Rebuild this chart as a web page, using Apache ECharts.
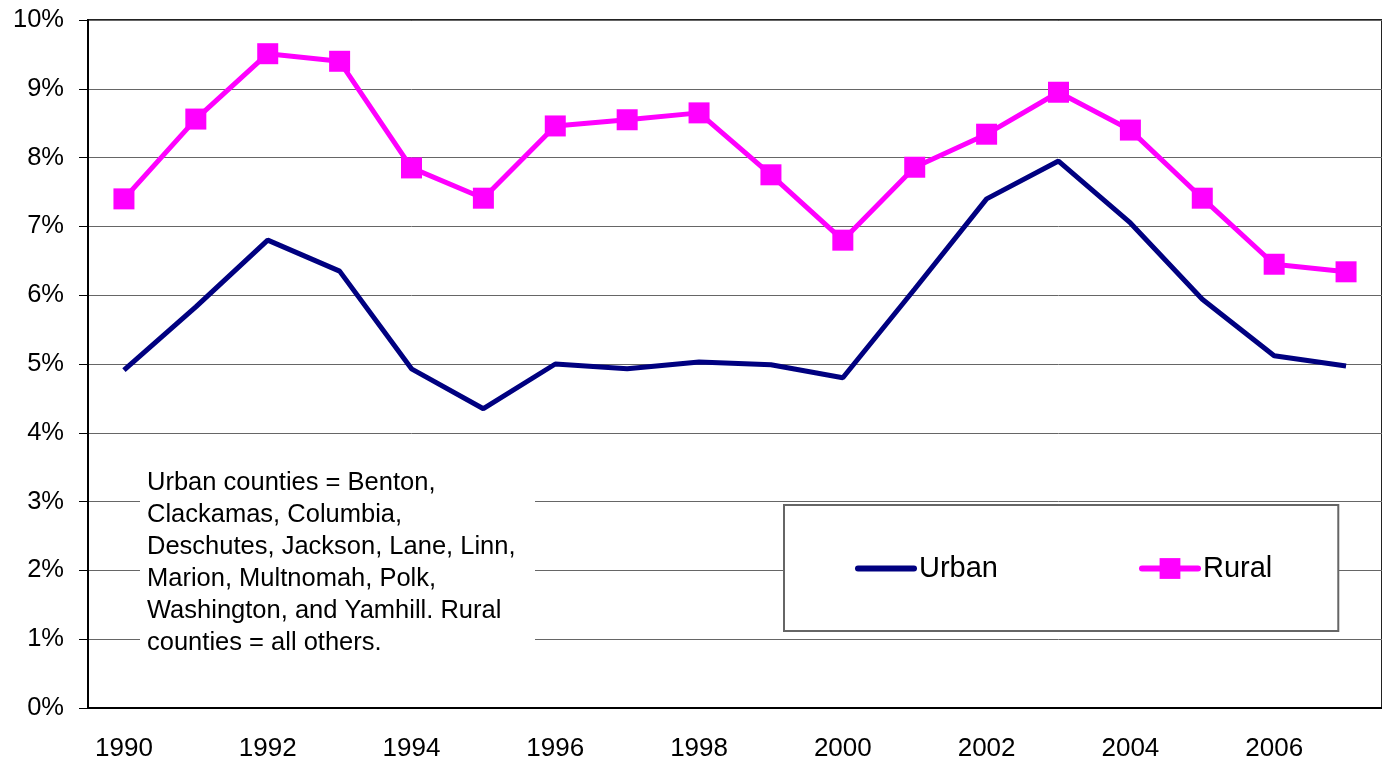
<!DOCTYPE html>
<html>
<head>
<meta charset="utf-8">
<script src="https://cdn.jsdelivr.net/npm/echarts@6/dist/echarts.min.js"></script>
<style>
  html, body { margin: 0; padding: 0; background: #fff; }
  #chart { width: 1382px; height: 762px; }
</style>
</head>
<body>
<div id="chart"></div>
<script>
const years = ['1990', '1991', '1992', '1993', '1994', '1995', '1996', '1997', '1998',
  '1999', '2000', '2001', '2002', '2003', '2004', '2005', '2006', '2007']
const urban = [4.91, 5.83, 6.80, 6.35, 4.93, 4.35, 5.00, 4.93, 5.03,
  4.99, 4.80, 6.09, 7.40, 7.95, 7.05, 5.94, 5.12, 4.97]
const rural = [7.40, 8.56, 9.51, 9.40, 7.85, 7.41, 8.46, 8.55, 8.65,
  7.75, 6.80, 7.86, 8.34, 8.95, 8.40, 7.41, 6.45, 6.34]
const note = 'Urban counties = Benton,\nClackamas, Columbia,\nDeschutes, Jackson, Lane, Linn,\nMarion, Multnomah, Polk,\nWashington, and Yamhill. Rural\ncounties = all others.'

const font = '"Liberation Sans", Arial, sans-serif'
const chart = echarts.init(document.getElementById('chart'))

chart.setOption({
  animation: false,
  backgroundColor: '#fff',
  textStyle: { fontFamily: font, color: '#000' },
  grid: {
    left: 88, right: -20, top: 20, bottom: 54,
    show: true, borderColor: '#222', borderWidth: 2, backgroundColor: 'transparent',
  },
  legend: {
    left: 784,
    top: 505,
    padding: [49, 66, 48, 71],
    itemWidth: 56,
    itemHeight: 26,
    itemGap: 141,
    backgroundColor: '#fff',
    borderColor: '#666',
    borderWidth: 2,
    lineStyle: { width: 6, cap: 'round' },
    textStyle: { fontSize: 29, color: '#000', fontFamily: font },
    data: [
      { name: 'Urban', itemStyle: { opacity: 0 } },
      { name: 'Rural' },
    ],
  },
  xAxis: {
    type: 'category',
    data: years,
    boundaryGap: true,
    axisLine: { lineStyle: { color: '#000', width: 2 } },
    axisTick: { interval: 0, length: 8, lineStyle: { color: '#000', width: 1 } },
    axisLabel: { interval: 1, fontSize: 26, color: '#000', margin: 28, fontFamily: font },
  },
  yAxis: {
    type: 'value',
    min: 0,
    max: 10,
    interval: 1,
    axisLine: { show: true, lineStyle: { color: '#000', width: 2 } },
    axisTick: { show: true, length: 9, lineStyle: { color: '#000', width: 1 } },
    axisLabel: { formatter: '{value}%', fontSize: 25.5, color: '#000', margin: 24, fontFamily: font, padding: [4, 0, 0, 0] },
    splitLine: { lineStyle: { color: '#666', width: 1 } },
  },
  graphic: [
    {
      type: 'rect',
      shape: { x: 140, y: 463, width: 395, height: 198 },
      style: { fill: '#fff' },
      z: 10,
    },
    {
      type: 'text',
      x: 147,
      y: 467,
      z: 11,
      style: {
        text: note,
        font: '25.5px ' + font,
        fill: '#000',
        lineHeight: 32,
      },
    },
  ],
  series: [
    {
      name: 'Urban',
      type: 'line',
      data: urban,
      symbol: 'none',
      color: '#000080',
      lineStyle: { color: '#000080', width: 5 },
      z: 3,
    },
    {
      name: 'Rural',
      type: 'line',
      data: rural,
      symbol: 'rect',
      symbolSize: 21,
      color: '#ff00ff',
      itemStyle: { color: '#ff00ff' },
      lineStyle: { color: '#ff00ff', width: 5 },
      z: 4,
    },
  ],
})
</script>
</body>
</html>
